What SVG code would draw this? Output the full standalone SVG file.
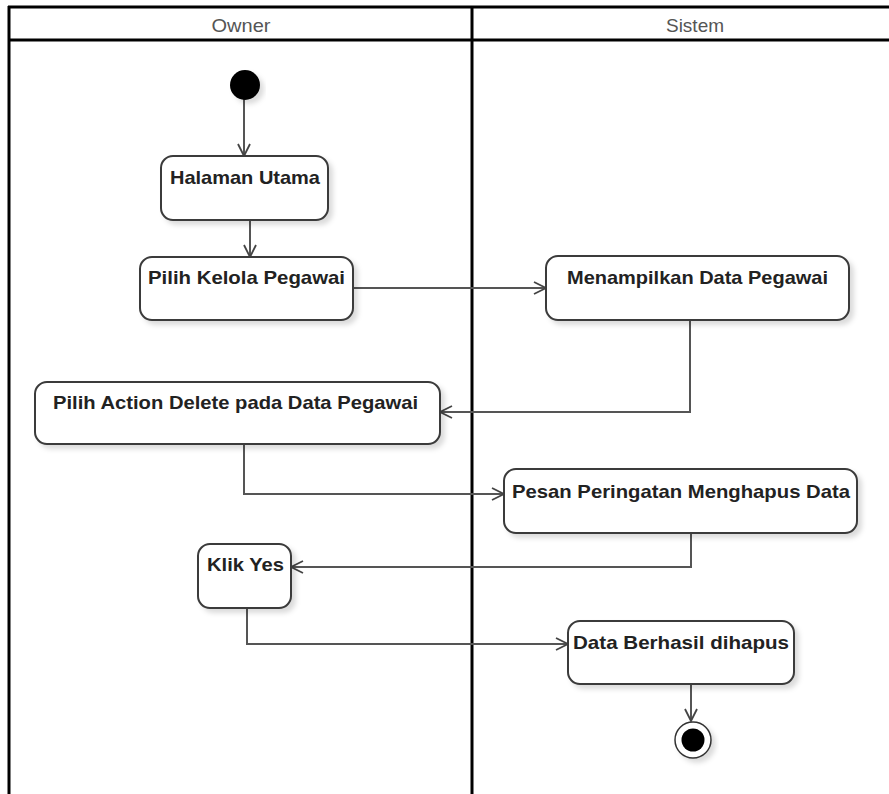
<svg xmlns="http://www.w3.org/2000/svg" width="889" height="794" viewBox="0 0 889 794">
  <defs>
    <filter id="shadow" x="-10%" y="-20%" width="130%" height="150%">
      <feDropShadow dx="4" dy="4" stdDeviation="2.5" flood-color="#000" flood-opacity="0.14"/>
    </filter>
    <marker id="arrow" viewBox="0 0 14 14" refX="13" refY="7" markerWidth="14" markerHeight="14" markerUnits="userSpaceOnUse" orient="auto">
      <path d="M1,1 L13,7 L1,13" fill="none" stroke="#444" stroke-width="1.8"/>
    </marker>
  </defs>
  <style>
    .lane { stroke: #000; stroke-width: 3; fill: none; }
    .lane-title { font-family: "Liberation Sans", Arial, sans-serif; font-size: 19px; fill: #555; text-anchor: middle; }
    .action rect { fill: #fff; stroke: #3a3a3a; stroke-width: 2; filter: url(#shadow); }
    .action text { font-family: "Liberation Sans", Arial, sans-serif; font-size: 18.5px; font-weight: bold; fill: #222; }
    .flow { fill: none; stroke: #555; stroke-width: 2; marker-end: url(#arrow); }
  </style>
  <rect width="889" height="794" fill="#fff"/>

  <!-- swimlane frame -->
  <g id="swimlanes">
    <line class="lane" x1="8" y1="7" x2="889" y2="7"/>
    <line class="lane" x1="8" y1="40" x2="889" y2="40"/>
    <line class="lane" x1="9" y1="6" x2="9" y2="794"/>
    <line class="lane" x1="472" y1="6" x2="472" y2="794"/>
    <text class="lane-title" x="241" y="32" textLength="59" lengthAdjust="spacingAndGlyphs">Owner</text>
    <text class="lane-title" x="695" y="32" textLength="58" lengthAdjust="spacingAndGlyphs">Sistem</text>
  </g>

  <!-- connectors -->
  <g id="connectors">
    <path class="flow" d="M244,99 L244,156"/>
    <path class="flow" d="M250,220 L250,257"/>
    <path class="flow" d="M353,288 L546,288"/>
    <path class="flow" d="M690,320 L690,412 L440,412"/>
    <path class="flow" d="M244,444 L244,494 L504,494"/>
    <path class="flow" d="M691,533 L691,567 L291,567"/>
    <path class="flow" d="M247,608 L247,644 L568,644"/>
    <path class="flow" d="M691,684 L691,721"/>
  </g>

  <!-- start node -->
  <g id="start">
    <circle cx="245" cy="85" r="15" fill="#000" filter="url(#shadow)"/>
  </g>

  <g id="halaman-utama" class="action">
    <rect x="161" y="156" width="167" height="64" rx="12"/>
    <text x="170" y="184" textLength="150" lengthAdjust="spacingAndGlyphs">Halaman Utama</text>
  </g>

  <g id="pilih-kelola-pegawai" class="action">
    <rect x="140" y="257" width="213" height="63" rx="12"/>
    <text x="148" y="284" textLength="197" lengthAdjust="spacingAndGlyphs">Pilih Kelola Pegawai</text>
  </g>

  <g id="menampilkan-data-pegawai" class="action">
    <rect x="546" y="256" width="303" height="64" rx="12"/>
    <text x="567" y="284" textLength="261" lengthAdjust="spacingAndGlyphs">Menampilkan Data Pegawai</text>
  </g>

  <g id="pilih-action-delete" class="action">
    <rect x="35" y="382" width="405" height="62" rx="12"/>
    <text x="53" y="409" textLength="365" lengthAdjust="spacingAndGlyphs">Pilih Action Delete pada Data Pegawai</text>
  </g>

  <g id="pesan-peringatan" class="action">
    <rect x="504" y="469" width="353" height="64" rx="12"/>
    <text x="512" y="498" textLength="338" lengthAdjust="spacingAndGlyphs">Pesan Peringatan Menghapus Data</text>
  </g>

  <g id="klik-yes" class="action">
    <rect x="198" y="544" width="93" height="64" rx="12"/>
    <text x="207" y="571" textLength="77" lengthAdjust="spacingAndGlyphs">Klik Yes</text>
  </g>

  <g id="data-berhasil-dihapus" class="action">
    <rect x="568" y="621" width="226" height="63" rx="12"/>
    <text x="573" y="649" textLength="216" lengthAdjust="spacingAndGlyphs">Data Berhasil dihapus</text>
  </g>

  <!-- final node -->
  <g id="end">
    <circle cx="693" cy="740" r="18" fill="#fff" stroke="#333" stroke-width="1.5" filter="url(#shadow)"/>
    <circle cx="693" cy="740" r="11.5" fill="#000"/>
  </g>
</svg>
